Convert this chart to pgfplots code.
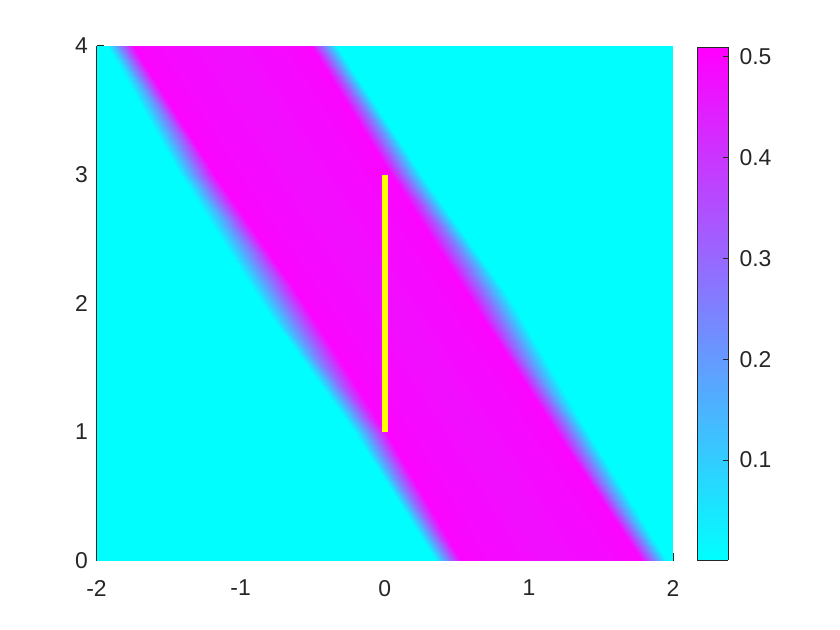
\documentclass[border=0pt]{standalone}
\usepackage{pgfplots}
\pgfplotsset{compat=1.18}
\usepackage{fontspec}
\setmainfont{Liberation Sans}
\definecolor{axgray}{rgb}{0.15,0.15,0.15}
\definecolor{myyellow}{rgb}{1,1,0}
\begin{document}
\begin{tikzpicture}
\begin{axis}[name=main, set layers, scale only axis,
 width=576.5bp, height=514.5bp,
 xmin=-2, xmax=2, ymin=0, ymax=4,
 axis x line*=bottom, axis y line*=left,
 axis line style={axgray, line width=1.2bp},
 tick style={axgray, line width=1.2bp},
 tick align=inside, major tick length=7bp,
 xtick={-2,-1,0,1,2}, xticklabels={-2,-1,0,1,2},
 ytick={0,1,2,3,4}, yticklabels={0,1,2,3,4},
 ticklabel style={font=\fontsize{23}{27}\selectfont, text=axgray},
 xticklabel style={yshift=-16bp},
 yticklabel style={xshift=-5bp},
 colormap={cool}{rgb=(0,1,1) rgb=(1,0,1)},
 point meta min=0.001, point meta max=0.509,
 colorbar sampled,
 colorbar style={
   samples=200,
   at={(parent axis.north east)}, anchor=north west,
   xshift=15.5bp, yshift=-1.3bp,
   width=31bp, height=512.7bp,
   ytick={0.1,0.2,0.3,0.4,0.5}, yticklabels={0.1,0.2,0.3,0.4,0.5},
   ytick pos=right, yticklabel pos=right,
   tick align=inside, major tick length=5bp,
   tick style={axgray, line width=1bp},
   axis line style={axgray, line width=1bp},
   yticklabel style={font=\fontsize{23}{27}\selectfont, text=axgray, xshift=8bp},
 },
]
\addplot[surf, shader=interp, mesh/cols=7, point meta=explicit] table[x=x, y=y, meta=c] {
x y c
-2 0 0.003
0.35 0 0.003
0.53 0 0.50
1.15 0 0.48
1.777 0 0.50
1.957 0 0.003
2 0 0.003
-2 1 0.003
-0.21 1 0.003
0.01 1 0.50
0.6 1 0.48
1.19 1 0.50
1.41 1 0.003
2 1 0.003
-2 2 0.003
-0.86 2 0.003
-0.56 2 0.50
0.02 2 0.48
0.61 2 0.50
0.89 2 0.003
2 2 0.003
-2 3 0.003
-1.42 3 0.003
-1.18 3 0.50
-0.57 3 0.48
0.04 3 0.50
0.26 3 0.003
2 3 0.003
-2 4 0.003
-1.93 4 0.003
-1.75 4 0.50
-1.13 4 0.48
-0.51 4 0.50
-0.33 4 0.003
2 4 0.003
};
\addplot[myyellow, line width=6bp] coordinates {(0,1) (0,3)};
\end{axis}
\pgfresetboundingbox
\path[use as bounding box] (main.south west) ++(-96.5bp,-69.5bp) rectangle ++(840bp,630bp);
\end{tikzpicture}
\end{document}
